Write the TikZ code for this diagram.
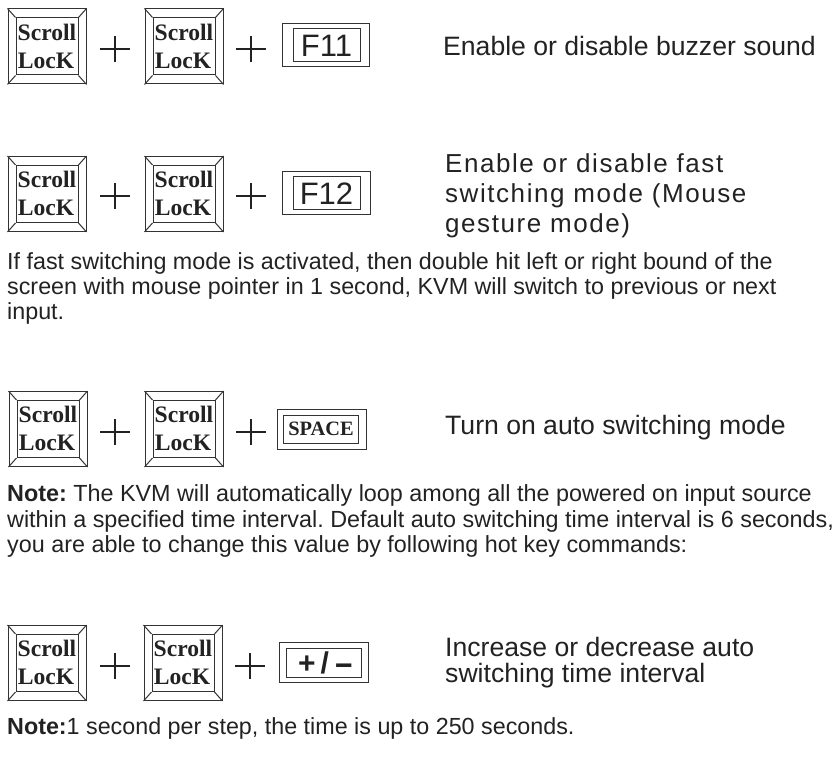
\documentclass[tikz,border=0pt]{standalone}
\usepackage{graphicx}
\usepackage{fontspec}
\setmainfont{Liberation Sans}
\newfontfamily\keyserif{Liberation Serif}
\newfontfamily\wideface[LetterSpace=6]{Liberation Sans}
\definecolor{ink}{HTML}{222222}
\definecolor{edge}{HTML}{333333}
\frenchspacing
\tikzset{
  x=1pt,y=-1pt,
  keyline/.style={draw=edge,line width=1pt},
  crossline/.style={draw=ink,line width=2.1pt},
  body/.style={anchor=north west,inner sep=0pt,align=left,text=ink,font=\frenchspacing\fontsize{23.3}{25}\selectfont},
  bodyb/.style={anchor=north west,inner sep=0pt,align=left,text=ink,font=\frenchspacing\fontsize{23.35}{25.5}\selectfont},
  big/.style={anchor=north west,inner sep=0pt,align=left,text=ink,font=\fontsize{26.6}{26.5}\selectfont},
  wide/.style={anchor=north west,inner sep=0pt,align=left,text=ink,font=\wideface\fontsize{26}{30}\selectfont},
  scrolltext/.style={text=ink,inner sep=0pt,font=\keyserif\bfseries\fontsize{23.6}{23.6}\selectfont},
  ftext/.style={text=ink,inner sep=0pt,font=\fontsize{31}{31}\selectfont},
}
\newcommand\scrollkey[3]{% name, left, top
  \node[keyline,minimum width=78pt,minimum height=75pt,inner sep=0pt,anchor=north west] (#1) at (#2,#3) {};
  \node[keyline,minimum width=62pt,minimum height=57pt,inner sep=0pt,anchor=north west] (#1i) at (#2+8,#3+9) {};
  \draw[keyline] (#1.north west) -- (#1i.north west);
  \draw[keyline] (#1.north east) -- (#1i.north east);
  \draw[keyline] (#1.south west) -- (#1i.south west);
  \draw[keyline] (#1.south east) -- (#1i.south east);
  \node[scrolltext] at (#2+39.5,#3+23.5) {Scroll};
  \node[scrolltext] at (#2+38.5,#3+52) {LocK};
}
\newcommand\plussign[3]{%
  \coordinate (#1) at (#2,#3);
  \draw[crossline] ([xshift=-15pt]#1) -- ([xshift=15pt]#1);
  \draw[crossline] ([yshift=-13pt]#1) -- ([yshift=13pt]#1);
}
\begin{document}
\begin{tikzpicture}
\useasboundingbox (0,0) rectangle (839,757);
% row 1
\scrollkey{ka}{7.5}{8.5}
\plussign{pa}{115}{49}
\scrollkey{kb}{144.5}{8.5}
\plussign{pb}{251}{49}
\node[keyline,minimum width=87pt,minimum height=43pt,inner sep=0pt] (fa) at (325.5,45.5) {};
\node[keyline,minimum width=67pt,minimum height=33pt,inner sep=0pt,ftext] (fai) at (326.5,45.5) {F11};
\node[big] (ta) at (443,36) {Enable or disable buzzer sound};
% row 2
\scrollkey{kc}{7.5}{156}
\plussign{pc}{115}{196}
\scrollkey{kd}{144.5}{156}
\plussign{pd}{251}{196}
\node[keyline,minimum width=88pt,minimum height=43pt,inner sep=0pt] (fb) at (326,193.5) {};
\node[keyline,minimum width=67pt,minimum height=33pt,inner sep=0pt,ftext] (fbi) at (326.5,193.5) {F12};
\node[wide] (tb) at (445,153) {Enable or disable fast\\switching mode (Mouse\\gesture mode)};
\node[body] (tc) at (7,252.5) {If fast switching mode is activated, then double hit left or right bound of the\\screen with mouse pointer in 1 second, KVM will switch to previous or next\\input.};
% row 3
\scrollkey{ke}{8.5}{391}
\plussign{pe}{115}{432}
\scrollkey{kf}{144.5}{391}
\plussign{pf}{251}{432}
\node[keyline,minimum width=89pt,minimum height=40pt,inner sep=0pt] (fc) at (321.5,429) {};
\node[keyline,minimum width=75pt,minimum height=28pt,inner sep=0pt,text=ink,font=\keyserif\bfseries\fontsize{20.4}{20.4}\selectfont] (fci) at (321,429) {SPACE};
\node[big] (td) at (445,415.5) {Turn on auto switching mode};
\node[bodyb] (te) at (7,484.5) {\textbf{Note:} The KVM will automatically loop among all the powered on input source\\within a specified time interval. Default auto switching time interval is 6 seconds,\\you are able to change this value by following hot key commands:};
% row 4
\scrollkey{kg}{7.5}{625}
\plussign{pg}{115}{666}
\scrollkey{kh}{143.5}{625}
\plussign{ph}{250}{666}
\node[keyline,minimum width=89pt,minimum height=40pt,inner sep=0pt] (fd) at (323.5,662) {};
\node[keyline,minimum width=75pt,minimum height=29pt,inner sep=0pt,text=ink,font=\bfseries\fontsize{30}{30}\selectfont] (fdi) at (323.5,662.5) {\hspace{5pt}+\,/\,\scalebox{2}[1]{-}};
\node[big] (tf) at (445,637) {Increase or decrease auto\\switching time interval};
\node[body] (tg) at (7,717) {\textbf{Note:}1 second per step, the time is up to 250 seconds.};
\end{tikzpicture}
\end{document}
